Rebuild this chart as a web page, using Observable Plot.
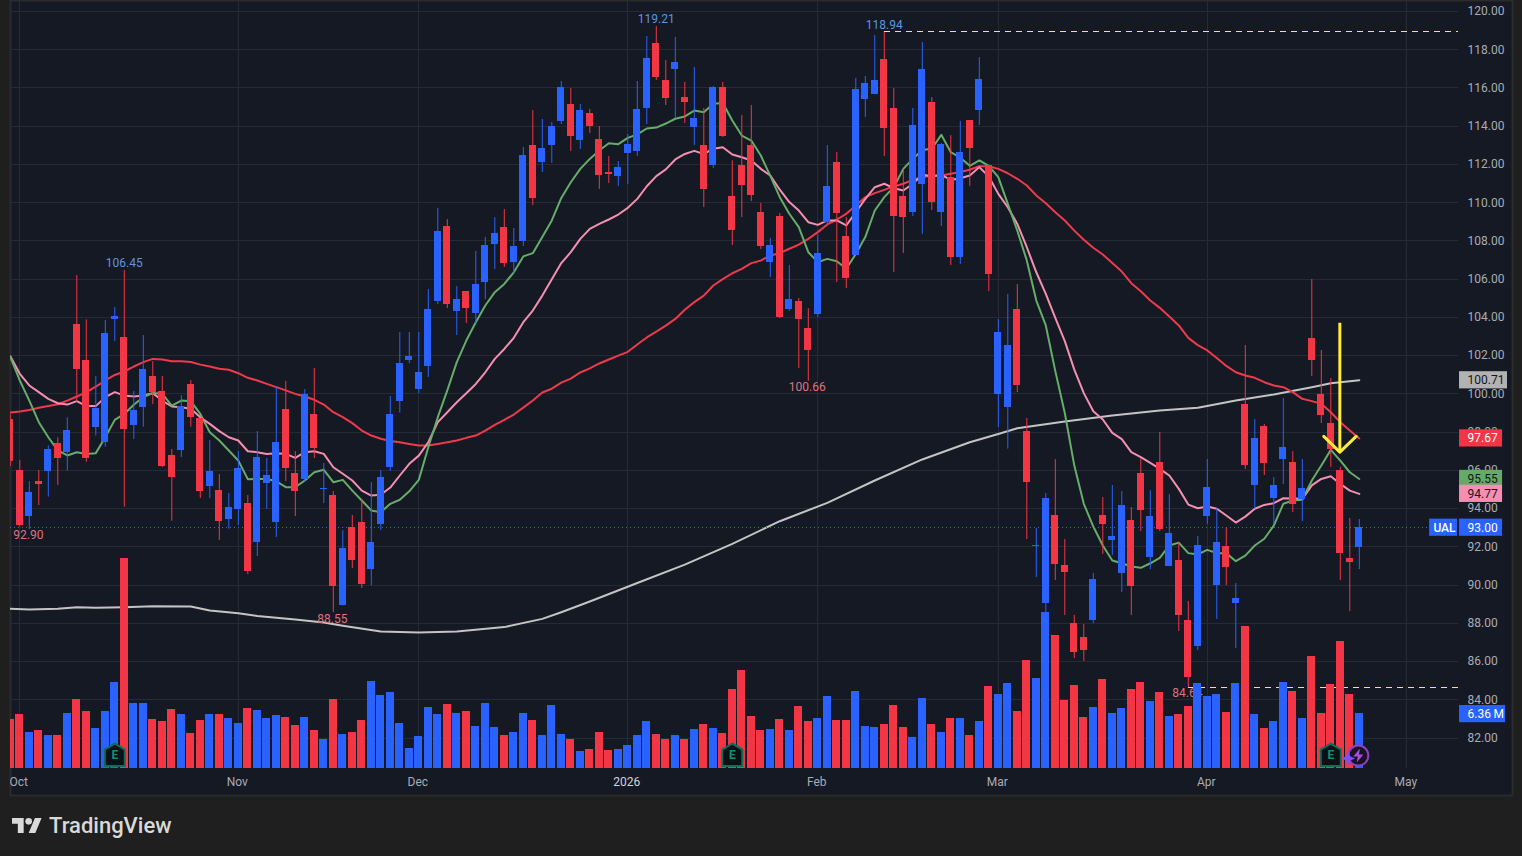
<!DOCTYPE html>
<html><head><meta charset="utf-8">
<script src="https://cdn.jsdelivr.net/npm/d3@7"></script>
<script src="https://cdn.jsdelivr.net/npm/@observablehq/plot@0.6"></script>
<style>
html,body{margin:0;padding:0;background:#1f1f1f;overflow:hidden}
#chart svg{display:block}
#foot{position:relative;height:56px;background:#1f1f1f;color:#d9d9d9}
#foot svg{position:absolute;left:12px;top:18px}
#foot span{position:absolute;left:49px;top:12px;font:500 22px/28px Roboto,sans-serif}
</style></head><body>
<div id="chart"></div>
<div id="foot"><svg width="30" height="15" viewBox="0 4 36 18"><path fill="#d9d9d9" d="M14 22H7V11H0V4h14v18zM28 22h-8l7.5-18h8L28 22z"/><circle fill="#d9d9d9" cx="20" cy="8" r="4"/></svg><span>TradingView</span></div>
<script>
// Bars run from index -1 (last bar of Sep 2025) to 141
const opens=[98.66,95.99,93.58,95.41,95.96,97.40,96.93,103.63,101.74,98.26,97.46,103.89,102.95,98.34,99.29,100.91,100.12,96.78,97.04,100.49,98.71,95.15,94.94,93.42,93.95,94.26,92.22,95.31,93.27,99.18,95.83,95.52,98.92,95.00,94.68,88.93,93.01,93.27,90.81,93.17,96.15,99.60,101.74,100.23,101.43,104.83,108.75,104.31,105.35,104.20,105.82,107.81,108.70,106.87,107.97,112.99,112.10,112.99,114.25,115.14,113.25,114.66,113.30,111.58,111.37,112.57,112.68,114.93,118.33,116.39,116.97,115.50,113.93,112.99,111.96,116.02,110.32,111.94,112.99,109.49,106.87,109.28,104.41,104.83,103.42,104.15,108.96,112.10,108.23,107.24,115.40,115.66,117.49,114.93,110.32,109.49,110.95,115.24,109.49,111.32,107.13,114.30,114.82,111.94,99.97,99.29,104.41,98.03,92.02,89.03,93.64,91.02,87.99,87.25,88.14,93.64,92.33,90.60,93.38,95.83,91.44,96.41,90.97,91.28,88.14,86.78,93.58,89.97,92.0,89.03,99.44,95.21,98.29,94.53,96.57,96.41,94.47,102.90,99.97,98.45,95.99,91.39,91.96];
const highs=[98.9,96.51,95.41,95.99,97.28,97.70,98.75,106.19,103.87,100.91,103.84,104.52,106.45,100.12,103.05,101.69,100.91,97.09,99.91,100.70,98.71,97.56,95.78,94.79,96.98,94.68,98.03,96.62,100.33,100.65,96.98,100.23,101.33,96.36,94.89,92.85,93.64,94.47,95.36,95.99,99.86,103.21,103.21,103.21,105.46,109.70,109.12,105.61,105.35,107.45,108.18,109.22,109.64,108.65,112.89,114.82,114.35,114.19,116.34,115.97,115.14,114.87,113.98,112.42,112.15,113.57,116.34,118.69,119.21,117.44,118.64,116.29,117.07,114.93,116.08,116.29,112.19,114.56,115.08,109.96,108.13,109.43,106.71,104.99,104.46,108.34,112.99,112.62,109.22,116.5,116.60,118.74,118.94,115.97,111.74,114.93,118.38,115.50,113.1,113.51,114.25,114.30,117.59,111.94,103.89,105.20,105.72,98.71,92.96,94.79,96.56,92.38,88.41,87.93,90.60,94.58,95.21,94.89,94.05,96.62,94.94,97.98,94.73,92.22,89.14,92.54,96.57,94.0,93.0,90.08,102.53,98.66,98.40,95.62,99.76,96.98,96.57,105.98,102.27,100.80,96.17,93.48,93.43];
const lows=[96.2,93.03,92.90,94.16,94.60,95.21,95.96,99.57,96.43,97.79,97.21,102.74,94.07,97.61,98.26,99.44,96.15,93.34,96.67,98.26,94.53,94.53,92.33,92.92,93.11,90.55,91.49,93.95,92.49,95.41,93.58,95.41,96.62,94.26,88.55,88.9,90.86,89.82,89.97,92.85,95.94,98.99,101.59,100.02,100.86,104.67,104.46,103.05,103.68,103.66,104.93,106.50,106.61,106.28,107.71,109.85,111.58,112.05,114.09,112.68,112.78,113.62,110.69,111.0,110.85,110.95,112.42,114.09,116.39,115.08,114.40,114.14,112.99,109.75,111.79,113.41,107.76,109.22,110.06,107.55,106.09,103.94,104.31,101.33,100.66,103.99,108.75,105.82,105.51,107.24,114.45,115.66,112.42,106.35,107.34,109.28,108.34,109.59,108.75,106.71,106.77,110.85,114.04,105.35,98.24,97.11,100.07,92.38,90.39,88.5,90.24,88.41,86.16,86.0,87.99,91.6,91.54,89.61,88.41,92.80,90.81,92.80,90.97,87.57,84.64,86.57,93.17,88.2,89.97,86.68,96.04,93.97,95.73,93.2,95.26,93.79,93.32,100.91,98.45,96.15,90.24,88.62,90.81];
const closes=[96.46,93.11,94.84,95.27,97.09,96.62,98.08,101.29,96.62,99.23,103.16,104.05,98.13,99.13,101.27,100.07,96.20,95.63,99.34,98.76,94.89,95.94,93.32,94.05,96.10,90.71,96.67,95.73,97.46,96.10,94.89,99.96,97.14,95.05,89.92,91.91,91.28,90.03,92.22,95.63,98.92,101.59,101.95,101.12,104.41,108.49,104.67,104.93,104.47,105.72,107.76,108.39,106.82,107.71,112.47,110.22,112.83,113.98,116.02,113.46,114.82,113.98,111.42,111.47,111.84,113.04,114.87,117.54,116.55,115.45,117.33,115.24,114.40,110.69,116.02,113.46,108.54,110.90,110.38,107.71,107.76,103.99,104.93,103.89,102.27,107.34,110.85,109.43,106.03,115.92,116.23,116.39,113.88,109.28,109.22,114.04,116.97,110.01,113.04,107.13,112.62,112.83,116.44,106.24,103.21,102.53,100.44,95.36,92.07,94.53,91.07,90.65,86.47,86.57,90.29,93.17,92.54,94.16,89.92,93.90,93.58,92.90,92.70,88.41,85.16,92.07,95.10,92.22,90.92,89.30,96.25,97.66,96.36,95.21,97.19,94.21,95.05,101.74,98.87,97.09,91.65,91.18,93.0];
const volumes=[5.67,6.25,4.16,4.39,3.82,3.82,6.36,7.98,6.59,4.63,6.59,9.95,24.29,7.52,7.52,5.67,5.44,6.82,6.25,4.05,5.55,6.25,6.25,5.78,5.20,6.94,6.71,5.78,6.13,5.90,4.97,5.90,4.39,3.35,7.98,3.93,4.16,5.55,10.06,8.44,8.79,5.20,2.31,3.70,7.05,6.25,7.40,6.36,6.59,4.86,7.52,4.74,3.82,4.16,6.36,5.55,3.82,7.29,3.93,3.35,1.97,2.20,4.16,2.08,2.20,2.66,3.82,5.44,3.93,3.35,3.82,3.35,4.51,5.09,4.63,4.05,9.14,11.33,6.01,4.39,4.51,5.67,4.39,7.17,5.44,5.78,8.33,5.55,5.55,8.91,4.86,4.74,5.09,7.29,4.74,3.59,8.10,5.09,4.16,5.78,5.78,3.82,5.44,9.48,8.56,9.83,6.59,12.49,10.41,18.04,15.38,7.86,9.60,5.90,7.05,10.29,6.36,6.94,9.14,9.95,7.75,8.79,6.01,6.25,7.17,9.83,8.33,8.56,6.48,9.83,16.42,6.25,4.63,5.44,9.95,8.91,5.78,12.95,6.36,9.71,14.69,8.56,6.36];
const maGreen=[101.92,100.70,99.65,98.52,97.73,97.04,96.78,96.95,96.86,96.90,97.73,98.64,98.95,99.43,99.83,100.04,100.0,99.39,99.65,99.62,98.95,97.99,97.56,97.04,96.51,95.54,95.55,95.55,95.43,95.12,95.12,95.47,95.90,96.03,95.38,95.50,94.94,94.42,93.90,93.81,94.25,94.46,94.9,95.5,97.21,98.78,100.18,101.66,102.79,103.75,104.62,105.32,105.75,106.36,107.19,107.36,108.20,109.07,110.25,111.07,111.77,112.29,112.73,113.11,113.06,113.39,113.57,113.88,113.93,114.14,114.39,114.51,114.82,114.73,115.17,115.21,114.30,113.51,113.25,112.47,111.4,110.29,109.42,108.72,107.41,106.89,107.06,106.94,106.54,107.32,108.20,109.59,110.29,110.81,111.77,112.29,112.76,112.82,113.55,112.64,112.35,111.93,112.21,111.93,111.34,109.94,108.54,106.98,104.88,103.58,101.19,99.0,96.25,94.25,93.06,92.07,91.28,91.14,90.97,90.90,91.14,91.42,92.07,92.22,91.67,91.6,91.84,91.67,91.67,91.25,91.54,92.07,92.42,93.11,94.25,94.42,94.46,95.47,96.25,97.07,96.51,95.9,95.55];
const maPink=[101.97,101.05,100.44,100.09,99.74,99.51,99.44,99.62,99.36,99.36,99.83,100.09,99.91,99.86,99.91,100.04,99.65,99.34,99.30,99.22,98.78,98.43,98.05,97.73,97.56,97.0,96.95,96.86,96.90,96.86,96.65,96.95,97.0,96.86,96.16,95.82,95.47,94.94,94.68,94.72,95.1,95.73,96.34,96.77,97.47,98.52,99.04,99.56,100.03,100.52,101.13,101.83,102.35,102.93,103.75,104.36,105.14,106.0,106.84,107.41,108.11,108.63,108.89,109.12,109.38,109.73,110.2,110.86,111.39,111.74,112.26,112.55,112.71,112.55,112.82,112.90,112.52,112.38,112.21,111.77,111.42,110.68,110.03,109.59,108.98,108.84,109.07,109.07,108.81,109.50,110.2,110.81,110.99,110.76,110.64,110.99,111.47,111.37,111.45,111.19,111.28,111.42,111.86,111.37,110.46,109.76,108.89,107.67,106.36,105.23,103.98,102.76,101.27,100.04,99.09,98.66,97.96,97.63,96.95,96.69,96.39,96.08,95.73,95.03,94.21,94.02,94.11,93.99,93.64,93.27,93.58,93.99,94.19,94.28,94.54,94.53,94.51,95.21,95.55,95.69,95.29,94.94,94.77];
const maRed=[99.02,99.08,99.16,99.27,99.37,99.46,99.65,99.86,100.09,100.38,100.70,100.99,101.17,101.43,101.66,101.83,101.80,101.71,101.71,101.67,101.53,101.43,101.31,101.26,101.08,100.84,100.70,100.52,100.35,100.18,100.0,99.86,99.69,99.44,99.04,98.78,98.47,98.08,97.82,97.65,97.53,97.47,97.38,97.3,97.3,97.38,97.47,97.56,97.7,97.82,98.08,98.38,98.64,98.92,99.28,99.65,100.07,100.27,100.59,100.8,101.12,101.33,101.59,101.8,102.0,102.2,102.58,102.95,103.26,103.57,103.92,104.4,104.8,105.14,105.67,106.0,106.31,106.54,106.84,106.97,107.24,107.36,107.59,107.81,108.11,108.46,108.86,109.12,109.42,109.85,110.29,110.5,110.67,110.85,110.99,111.19,111.33,111.42,111.42,111.51,111.6,111.72,111.91,111.91,111.77,111.54,111.25,110.9,110.38,109.97,109.5,109.07,108.54,108.06,107.64,107.29,106.84,106.4,105.79,105.37,104.88,104.5,104.05,103.58,102.93,102.55,102.27,101.88,101.46,101.13,100.96,100.84,100.61,100.44,100.35,100.09,99.74,99.62,99.48,99.04,98.52,98.08,97.67];
// 200-day average read at selected bars
const grayIdx=[-1,1,4,6,8,11,14,18,20,23,25,29,32,34,38,42,46,51,55,57,60,65,70,75,80,85,90,95,100,103,105,110,115,120,124,128,132,136,138,141];
const grayVal=[88.76,88.72,88.76,88.84,88.81,88.84,88.89,88.88,88.67,88.53,88.38,88.20,88.04,87.87,87.57,87.52,87.57,87.80,88.23,88.58,89.14,90.11,91.07,92.15,93.34,94.30,95.47,96.57,97.47,97.90,98.20,98.55,98.87,99.13,99.27,99.65,99.97,100.35,100.56,100.71];
const priceTicks=[82,84,86,88,90,92,94,96,98,100,102,104,106,108,110,112,114,116,118,120];
const monthIdx=[0,23,42,64,84,103,125,146];
const monthNames=["Oct","Nov","Dec","2026","Feb","Mar","Apr","May"];
const highLabels=[{i:11,v:106.45},{i:67,v:119.21},{i:91,v:118.94}];
const lowLabels=[{i:1,v:92.90},{i:33,v:88.55},{i:83,v:100.66},{i:123,v:84.64}];
const priceTags=[
 {v:100.71,t:"100.71",bg:"#b2b2b2",fg:"#131722",end:156.6},
 {v:97.67,t:"97.67",bg:"#f23645",fg:"#ffffff",end:156.08},
 {v:95.55,t:"95.55",bg:"#63ab66",fg:"#131722",end:156.08},
 {v:94.77,t:"94.77",bg:"#f48fb1",fg:"#131722",end:156.08},
 {v:93.00,t:"93.00",bg:"#2962ff",fg:"#ffffff",end:156.08},
 {v:83.25,t:"6.36\u2009M",bg:"#2962ff",fg:"#ffffff",end:156.4}];
const earningsIdx=[10,75,138];
const arrowShaft=[{i:138.95,v:103.72},{i:138.95,v:96.95}];
const arrowHead=[{i:137.26,v:97.78},{i:138.95,v:96.95},{i:140.67,v:97.78}];

const RED="#f23645", BLUE="#2962ff", YELLOW="#ffeb3b";
const bars=opens.map((o,k)=>({i:k-1,o,h:highs[k],l:lows[k],c:closes[k],vol:volumes[k],col:closes[k]>=o?BLUE:RED}));
const series=a=>a.map((v,k)=>({i:k-1,v}));
const gray=grayIdx.map((i,k)=>({i,v:grayVal[k]}));
// volume pane shares the price scale: its baseline and millions-to-price ratio
const volBase=80.4, volPerM=0.4524;
const tickFill="#a9acb5", font=12;
const xGridEnd=151.4, tagStart=151.55, textStart=152.4, timeY=79.67, badgeY=81.08;
const house={draw(c,size){const s=Math.sqrt(size/Math.PI);c.moveTo(0,-1.2*s);c.lineTo(s,-.6*s);c.lineTo(s,1.05*s);c.lineTo(-s,1.05*s);c.lineTo(-s,-.6*s);c.closePath();}};
const bolt={draw(c,size){const s=Math.sqrt(size/Math.PI)/5;c.moveTo(1.2*s,-5*s);c.lineTo(-3.6*s,.6*s);c.lineTo(-.4*s,.6*s);c.lineTo(-1.2*s,5*s);c.lineTo(3.6*s,-.8*s);c.lineTo(.4*s,-.8*s);c.closePath();}};
const star4={draw(c,size){const s=Math.sqrt(size/Math.PI);const q=.3*s;c.moveTo(0,-s);c.lineTo(q,-q);c.lineTo(s,0);c.lineTo(q,q);c.lineTo(0,s);c.lineTo(-q,q);c.lineTo(-s,0);c.lineTo(-q,-q);c.closePath();}};

const svg=Plot.plot({
 width:1522,height:800,marginLeft:10,marginRight:10,marginTop:0,marginBottom:5,
 style:{background:"#1f1f1f",fontFamily:"Roboto, sans-serif"},
 x:{type:"linear",domain:[0,146],range:[19.3,1406.3],axis:null},
 y:{type:"linear",domain:[82,120],range:[737.5,11],axis:null},
 marks:[
  Plot.frame({fill:"#151924",stroke:"#2b2b2b",strokeWidth:2}),
  Plot.ruleY(priceTicks,{x1:-1,x2:xGridEnd,stroke:"#262a35",strokeWidth:1,clip:"frame",shapeRendering:"crispEdges"}),
  Plot.ruleX(monthIdx,{y1:volBase,y2:120.6,stroke:"#262a35",strokeWidth:1,shapeRendering:"crispEdges"}),
  Plot.line(gray,{x:"i",y:"v",stroke:"#c4c4c4",strokeWidth:2,clip:"frame"}),
  Plot.line(series(maRed),{x:"i",y:"v",stroke:"#ef3a4b",strokeWidth:2,clip:"frame"}),
  Plot.line(series(maPink),{x:"i",y:"v",stroke:"#f48fb1",strokeWidth:2,clip:"frame"}),
  Plot.line(series(maGreen),{x:"i",y:"v",stroke:"#66ad69",strokeWidth:2,clip:"frame"}),
  Plot.ruleY([93],{x1:-1,x2:148.4,stroke:BLUE,strokeWidth:1,strokeDasharray:"1 3",clip:"frame",shapeRendering:"crispEdges"}),
  Plot.ruleX(bars,{x:"i",y1:"l",y2:"h",stroke:"col",strokeWidth:1,clip:"frame"}),
  Plot.rect(bars,{x1:d=>d.i-.37,x2:d=>d.i+.37,y1:"o",y2:"c",fill:"col",clip:"frame",shapeRendering:"crispEdges"}),
  Plot.ruleY([118.94],{x1:91,x2:xGridEnd,stroke:YELLOW,strokeWidth:1,strokeDasharray:"6 5",shapeRendering:"crispEdges"}),
  Plot.ruleY([84.64],{x1:123,x2:xGridEnd,stroke:YELLOW,strokeWidth:1,strokeDasharray:"6 5",shapeRendering:"crispEdges"}),
  Plot.text(highLabels,{x:"i",y:"v",text:d=>d.v.toFixed(2),dy:-7,fill:"#5b96e0",fontSize:font}),
  Plot.text(lowLabels,{x:"i",y:"v",text:d=>d.v.toFixed(2),dy:6,dx:-1,fill:"#e0707a",fontSize:font}),
  Plot.rect(bars,{x1:d=>d.i-.44,x2:d=>d.i+.44,y1:volBase,y2:d=>volBase+d.vol*volPerM,fill:"col",clip:"frame",shapeRendering:"crispEdges"}),
  Plot.line(arrowShaft,{x:"i",y:"v",stroke:YELLOW,strokeWidth:3,strokeLinecap:"butt"}),
  Plot.line(arrowHead,{x:"i",y:"v",stroke:YELLOW,strokeWidth:3}),
  Plot.text(priceTicks,{x:textStart,y:d=>d,text:d=>d.toFixed(2),textAnchor:"start",fill:tickFill,fontSize:font}),
  Plot.rect(priceTags,{x1:tagStart,x2:"end",y1:d=>d.v-.45,y2:d=>d.v+.45,fill:"bg"}),
  Plot.text(priceTags,{x:textStart,y:"v",text:"t",textAnchor:"start",fill:"fg",fontSize:font}),
  Plot.rect([{v:93}],{x1:148.4,x2:151.34,y1:d=>d.v-.45,y2:d=>d.v+.45,fill:BLUE}),
  Plot.text([{v:93}],{x:148.8,y:"v",text:()=>"UAL",textAnchor:"start",fill:"#ffffff",fontSize:font,fontWeight:500}),
  Plot.text(monthIdx,{x:d=>d,y:timeY,dx:-1,text:(d,k)=>monthNames[k],fill:(d,k)=>monthNames[k]==="2026"?"#d1d4dc":tickFill,fontWeight:(d,k)=>monthNames[k]==="2026"?600:400,fontSize:font,clip:"frame"}),
  Plot.dot(earningsIdx,{x:d=>d,y:badgeY,r:10,symbol:house,fill:"#0c1116",stroke:"#0b6e5b",strokeWidth:2}),
  Plot.text(earningsIdx,{x:d=>d,y:badgeY,text:()=>"E",fill:"#0e9077",fontSize:12,fontWeight:700}),
  Plot.dot([140.9],{x:d=>d,y:badgeY,r:10,symbol:"circle",fill:"#1a1226",stroke:"#8e3fbf",strokeWidth:2}),
  Plot.dot([140.9],{x:d=>d,y:badgeY,r:7,symbol:bolt,fill:"#a452dc"}),
  Plot.dot([139.83],{x:d=>d,y:80.93,r:7,symbol:star4,fill:"#7a4dff"})
 ]
});
document.getElementById("chart").appendChild(svg);
</script>
</body></html>
